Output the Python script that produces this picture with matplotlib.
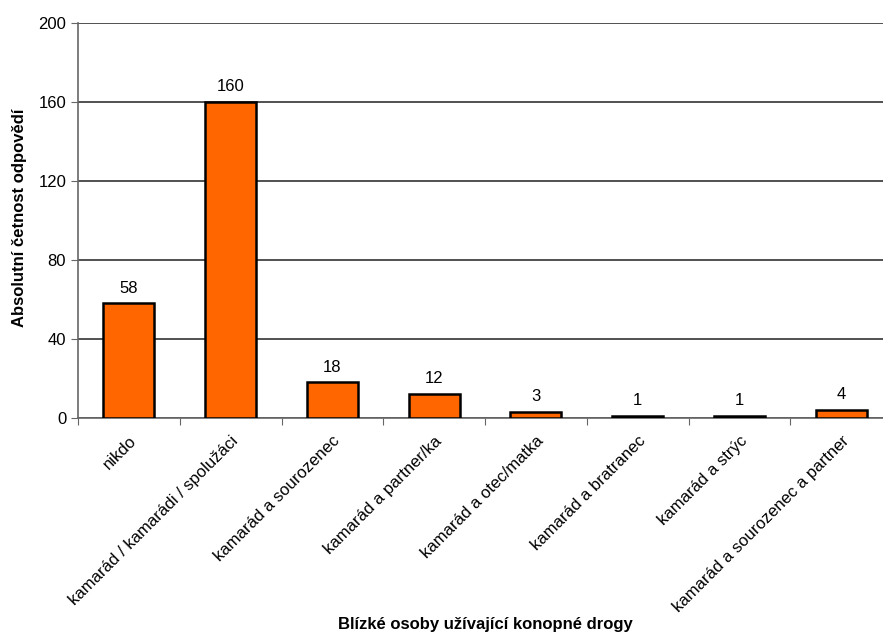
import matplotlib.pyplot as plt
import numpy as np

plt.rcParams["font.family"] = ["Liberation Sans", "DejaVu Sans"]

categories = [
    "nikdo",
    "kamarád / kamarádi / spolužáci",
    "kamarád a sourozenec",
    "kamarád a partner/ka",
    "kamarád a otec/matka",
    "kamarád a bratranec",
    "kamarád a strýc",
    "kamarád a sourozenec a partner",
]
counts = [58, 160, 18, 12, 3, 1, 1, 4]

W, H = 883, 633
fig = plt.figure(figsize=(W / 100, H / 100), dpi=100)

# plot area is cut off on the right in the source picture
left, right = 78, 892
top, bottom = 23, 418
ax = fig.add_axes([left / W, 1 - bottom / H, (right - left) / W, (bottom - top) / H])

x = np.arange(len(categories))
ax.bar(x, counts, width=0.5, color="#FF6600", edgecolor="black",
       linewidth=1.8, zorder=3)
for xi, v in zip(x, counts):
    ax.text(xi, v + 4, str(v), ha="center", va="bottom", fontsize=12)

ax.set_xlim(-0.5, len(categories) - 0.5)
ax.set_ylim(0, 200)
ax.set_yticks([0, 40, 80, 120, 160, 200])
ax.yaxis.grid(True, color="#333333", linewidth=1.2, zorder=0)

ax.set_xticks(np.arange(len(categories) + 1) - 0.5, minor=False)
ax.set_xticklabels([])
ax.set_xticks(x, minor=True)
ax.set_xticklabels(categories, minor=True, rotation=45, ha="right",
                   rotation_mode="anchor", fontsize=12)
ax.tick_params(axis="x", which="minor", length=0, pad=11)
ax.tick_params(axis="x", which="major", length=5, color="#666666")
ax.tick_params(axis="y", length=5, color="#666666", labelsize=12)

for s in ["top", "right"]:
    ax.spines[s].set_visible(False)
ax.spines["left"].set_color("#666666")
ax.spines["bottom"].set_color("#666666")
ax.spines["left"].set_linewidth(1.2)
ax.spines["bottom"].set_linewidth(1.2)

fig.text(20 / W, 1 - 218 / H, "Absolutní četnost odpovědí", rotation=90,
         ha="center", va="center", fontsize=12, fontweight="bold")
fig.text(485 / W, 1 - 625 / H, "Blízké osoby užívající konopné drogy",
         ha="center", va="center", fontsize=12, fontweight="bold")

fig.savefig("out.png", dpi=100)
